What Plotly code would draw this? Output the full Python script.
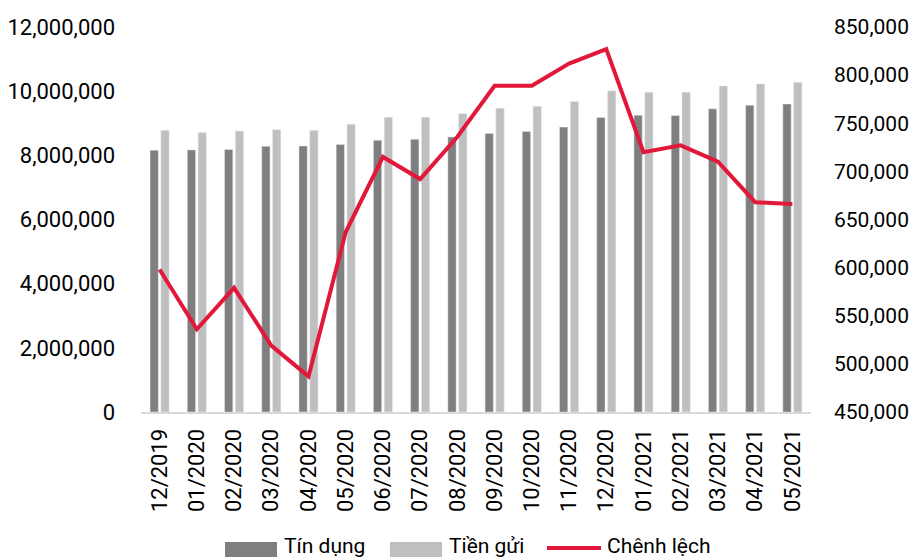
import plotly.graph_objects as go

categories = ["12/2019", "01/2020", "02/2020", "03/2020", "04/2020", "05/2020",
              "06/2020", "07/2020", "08/2020", "09/2020", "10/2020", "11/2020",
              "12/2020", "01/2021", "02/2021", "03/2021", "04/2021", "05/2021"]
tin_dung = [8160000, 8170000, 8180000, 8280000, 8290000, 8340000,
            8470000, 8500000, 8570000, 8680000, 8740000, 8880000,
            9180000, 9250000, 9240000, 9450000, 9560000, 9600000]
tien_gui = [8780000, 8710000, 8760000, 8800000, 8780000, 8970000,
            9190000, 9190000, 9300000, 9470000, 9530000, 9680000,
            10010000, 9970000, 9970000, 10160000, 10220000, 10280000]
chenh_lech = [598000, 536000, 579000, 519000, 487000, 637000,
              715000, 692000, 736000, 789000, 789000, 812000,
              827000, 720000, 727000, 710000, 668000, 666000]

FONT = "Roboto, Liberation Sans, sans-serif"
C_DARK = "#7f7f7f"
C_LIGHT = "#bfbfbf"
C_RED = "#e2183a"

fig = go.Figure()
fig.add_trace(go.Bar(x=categories, y=tin_dung, name="Tín dụng",
                     marker_color=C_DARK, showlegend=False))
fig.add_trace(go.Bar(x=categories, y=tien_gui, name="Tiền gửi",
                     marker_color=C_LIGHT, showlegend=False))
fig.add_trace(go.Scatter(x=categories, y=chenh_lech, name="Chênh lệch",
                         mode="lines", line=dict(color=C_RED, width=4),
                         yaxis="y2", showlegend=False))

L, R, T, B = 141, 103, 27, 148
W, H = 914, 560
pw, ph = W - L - R, H - T - B

def px(x):
    return (x - L) / pw

def py(y):
    return (H - B - y) / ph

# manual legend (wide swatches like the reference)
legend_items = [("Tín dụng", C_DARK, "bar", 225, 277, 282),
                ("Tiền gửi", C_LIGHT, "bar", 390, 442, 447),
                ("Chênh lệch", C_RED, "line", 547, 601, 605)]
shapes = []
annotations = []
for label, col, kind, x0, x1, tx in legend_items:
    if kind == "bar":
        shapes.append(dict(type="rect", xref="paper", yref="paper",
                           x0=px(x0), x1=px(x1), y0=py(557), y1=py(542),
                           fillcolor=col, line=dict(width=0)))
    else:
        shapes.append(dict(type="line", xref="paper", yref="paper",
                           x0=px(x0), x1=px(x1), y0=py(548), y1=py(548),
                           line=dict(color=col, width=4)))
    annotations.append(dict(text=label, xref="paper", yref="paper",
                            x=px(tx), y=py(546), xanchor="left", yanchor="middle",
                            showarrow=False, font=dict(family=FONT, size=21, color="#000000")))

fig.update_layout(
    width=W, height=H,
    margin=dict(l=L, r=R, t=T, b=B),
    paper_bgcolor="white", plot_bgcolor="white",
    barmode="group", bargap=0.42, bargroupgap=0.23,
    font=dict(family=FONT, size=22, color="#000000"),
    showlegend=False,
    xaxis=dict(type="category", tickangle=-90, showgrid=False, showline=True,
               linecolor="#d9d9d9", linewidth=2, ticks="", ticklabelstandoff=6,
               automargin=False, tickfont=dict(family=FONT, size=22)),
    yaxis=dict(range=[0, 12000000], dtick=2000000, tickformat=",d",
               showgrid=False, showline=False, zeroline=False, ticks="",
               automargin=False, ticklabelstandoff=25,
               tickfont=dict(family=FONT, size=22)),
    yaxis2=dict(range=[450000, 850000], dtick=50000, tickformat=",d",
                overlaying="y", side="right", showgrid=False, showline=False,
                zeroline=False, ticks="", ticklabelstandoff=22, automargin=False,
                tickfont=dict(family=FONT, size=21)),
    shapes=shapes, annotations=annotations,
)

fig.write_html("out.html")
